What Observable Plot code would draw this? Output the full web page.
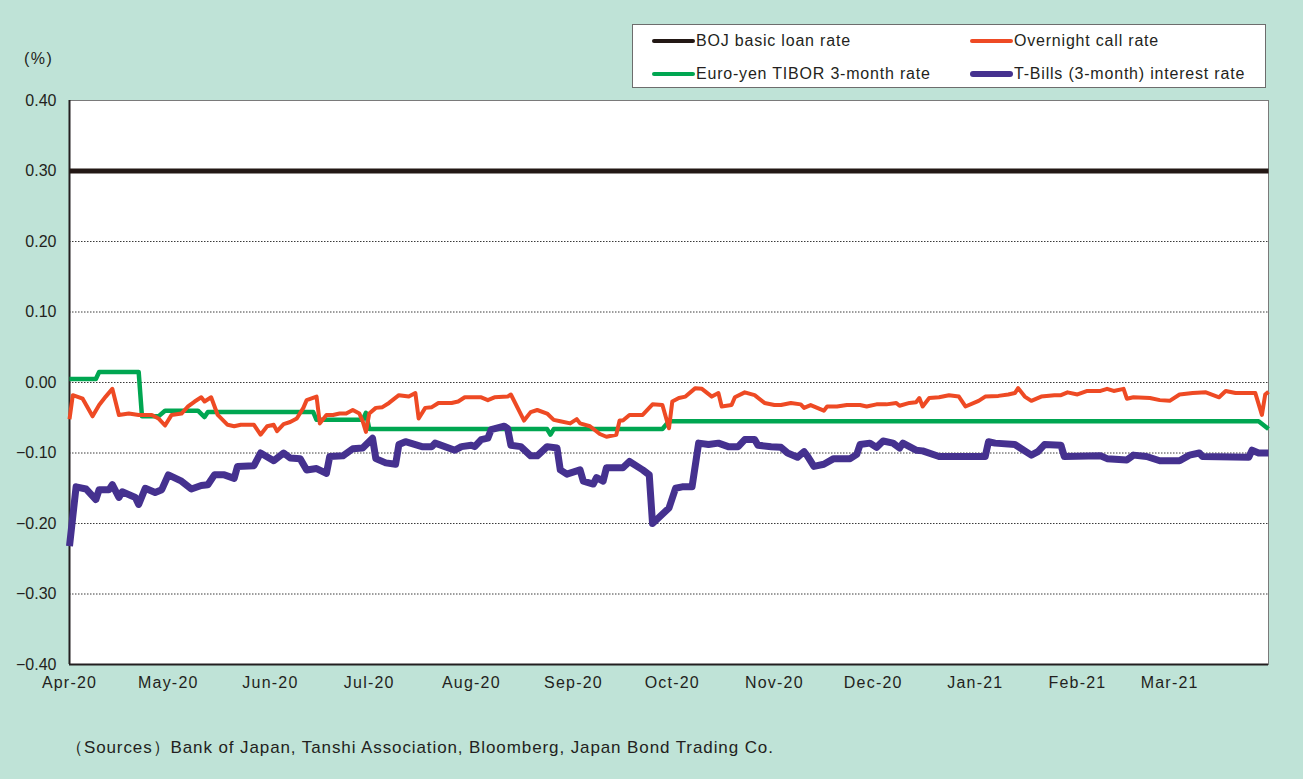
<!DOCTYPE html>
<html>
<head>
<meta charset="utf-8">
<script src="https://cdn.jsdelivr.net/npm/d3@7"></script>
<script src="https://cdn.jsdelivr.net/npm/@observablehq/plot@0.6"></script>
<style>
  html, body { margin: 0; padding: 0; }
  body { width: 1303px; height: 779px; background: #bfe3d7; position: relative; overflow: hidden;
         font-family: "Liberation Sans", Arial, sans-serif; color: #231f20; }
  #chart { position: absolute; left: 0; top: 0; }
  #chart svg g[aria-label="x-axis tick label"] text { letter-spacing: 1.2px; }
  .unit { position: absolute; left: 24px; top: 50px; font-size: 16px; letter-spacing: 1.5px; }
  .legend { position: absolute; left: 632px; top: 24px; width: 634px; height: 64px; background: #fff;
            border: 1px solid #6d6d6d; box-sizing: border-box; }
  .item { position: absolute; font-size: 16px; line-height: 18px; white-space: nowrap; letter-spacing: 0.8px; }
  .sw { display: inline-block; width: 43px; vertical-align: middle; border-radius: 3px; margin-right: 1px; position: relative; top: -1px; }
  .caption { position: absolute; left: 66px; top: 736px; font-size: 17px; letter-spacing: 0.9px; white-space: nowrap; }
</style>
</head>
<body>
<div id="chart"></div>
<div class="unit">(%)</div>
<div class="legend" id="legend"></div>
<div class="caption">（Sources）Bank of Japan, Tanshi Association, Bloomberg, Japan Bond Trading Co.</div>
<script>
// ---- data ----
const seriesNames = ["BOJ basic loan rate", "Overnight call rate", "Euro-yen TIBOR 3-month rate", "T-Bills (3-month) interest rate"];
const seriesColors = ["#231815", "#ee4a24", "#00a651", "#45318f"];

const bojDates = ["2020-04-01", "2021-03-31"];
const bojValues = [0.30, 0.30];

const callDates = [
  "2020-04-01","2020-04-02","2020-04-05","2020-04-08","2020-04-10","2020-04-12","2020-04-14","2020-04-16","2020-04-19","2020-04-22",
  "2020-04-26","2020-04-28","2020-04-30","2020-05-02","2020-05-05","2020-05-07","2020-05-09","2020-05-11","2020-05-12","2020-05-14",
  "2020-05-16","2020-05-19","2020-05-21","2020-05-23","2020-05-27","2020-05-29","2020-05-31","2020-06-02","2020-06-03","2020-06-05",
  "2020-06-07","2020-06-09","2020-06-11","2020-06-12","2020-06-15","2020-06-16","2020-06-18","2020-06-20","2020-06-22","2020-06-24",
  "2020-06-26","2020-06-28","2020-06-29","2020-06-30","2020-07-01","2020-07-03","2020-07-05","2020-07-07","2020-07-10","2020-07-13",
  "2020-07-15","2020-07-16","2020-07-18","2020-07-20","2020-07-22","2020-07-26","2020-07-28","2020-07-30","2020-08-01","2020-08-04",
  "2020-08-06","2020-08-08","2020-08-12","2020-08-13","2020-08-17","2020-08-19","2020-08-21","2020-08-24","2020-08-26","2020-08-28",
  "2020-08-31","2020-09-02","2020-09-03","2020-09-06","2020-09-09","2020-09-11","2020-09-14","2020-09-15","2020-09-16","2020-09-18",
  "2020-09-22","2020-09-25","2020-09-28","2020-09-30","2020-10-01","2020-10-03","2020-10-05","2020-10-08","2020-10-10","2020-10-13",
  "2020-10-15","2020-10-16","2020-10-19","2020-10-20","2020-10-23","2020-10-26","2020-10-29","2020-11-01","2020-11-03","2020-11-06",
  "2020-11-09","2020-11-10","2020-11-12","2020-11-14","2020-11-16","2020-11-17","2020-11-20","2020-11-23","2020-11-27","2020-11-29",
  "2020-12-02","2020-12-05","2020-12-08","2020-12-09","2020-12-12","2020-12-14","2020-12-15","2020-12-16","2020-12-18","2020-12-21",
  "2020-12-24","2020-12-27","2020-12-29","2021-01-02","2021-01-04","2021-01-08","2021-01-11","2021-01-13","2021-01-14","2021-01-16",
  "2021-01-18","2021-01-21","2021-01-25","2021-01-27","2021-01-29","2021-02-01","2021-02-04","2021-02-08","2021-02-10","2021-02-12",
  "2021-02-15","2021-02-16","2021-02-18","2021-02-23","2021-02-26","2021-03-01","2021-03-04","2021-03-08","2021-03-12","2021-03-16",
  "2021-03-18","2021-03-21","2021-03-24","2021-03-27","2021-03-29","2021-03-30","2021-03-31"
];
const callValues = [
  -0.052,-0.018,-0.023,-0.048,-0.032,-0.020,-0.009,-0.046,-0.044,-0.046,
  -0.046,-0.051,-0.061,-0.046,-0.044,-0.034,-0.027,-0.021,-0.027,-0.021,
  -0.046,-0.060,-0.062,-0.060,-0.060,-0.074,-0.062,-0.060,-0.069,-0.059,
  -0.056,-0.051,-0.036,-0.025,-0.020,-0.058,-0.046,-0.046,-0.044,-0.044,
  -0.039,-0.044,-0.055,-0.070,-0.044,-0.036,-0.035,-0.029,-0.018,-0.020,
  -0.015,-0.051,-0.036,-0.035,-0.029,-0.029,-0.027,-0.021,-0.021,-0.021,
  -0.025,-0.021,-0.020,-0.017,-0.054,-0.042,-0.039,-0.044,-0.053,-0.055,
  -0.058,-0.052,-0.058,-0.062,-0.073,-0.077,-0.074,-0.054,-0.054,-0.046,
  -0.046,-0.031,-0.032,-0.065,-0.027,-0.022,-0.020,-0.008,-0.009,-0.020,
  -0.015,-0.034,-0.032,-0.021,-0.014,-0.018,-0.029,-0.032,-0.032,-0.029,
  -0.031,-0.036,-0.032,-0.036,-0.040,-0.034,-0.034,-0.032,-0.032,-0.034,
  -0.031,-0.031,-0.029,-0.033,-0.029,-0.028,-0.022,-0.034,-0.022,-0.021,
  -0.018,-0.020,-0.034,-0.026,-0.020,-0.019,-0.017,-0.015,-0.008,-0.020,
  -0.026,-0.020,-0.018,-0.018,-0.014,-0.017,-0.012,-0.012,-0.009,-0.012,
  -0.009,-0.023,-0.021,-0.022,-0.025,-0.026,-0.017,-0.015,-0.014,-0.021,
  -0.012,-0.015,-0.015,-0.015,-0.046,-0.017,-0.013
];

const tiborDates = [
  "2020-04-01","2020-04-09","2020-04-10","2020-04-22","2020-04-23","2020-04-28","2020-04-30","2020-05-10","2020-05-12","2020-05-13",
  "2020-06-14","2020-06-15","2020-06-29","2020-06-30","2020-07-01","2020-08-24","2020-08-25","2020-08-26","2020-09-28","2020-09-30",
  "2021-03-28","2021-03-31"
];
const tiborValues = [
  0.005,0.005,0.015,0.015,-0.048,-0.048,-0.040,-0.040,-0.049,-0.042,
  -0.042,-0.053,-0.053,-0.043,-0.066,-0.066,-0.074,-0.066,-0.066,-0.055,
  -0.055,-0.066
];

const tbillDates = [
  "2020-04-01","2020-04-03","2020-04-06","2020-04-09","2020-04-10","2020-04-13","2020-04-14","2020-04-16","2020-04-17","2020-04-21",
  "2020-04-22","2020-04-24","2020-04-27","2020-04-29","2020-05-01","2020-05-05","2020-05-08","2020-05-11","2020-05-13","2020-05-15",
  "2020-05-18","2020-05-21","2020-05-22","2020-05-27","2020-05-29","2020-06-02","2020-06-05","2020-06-07","2020-06-10","2020-06-12",
  "2020-06-15","2020-06-18","2020-06-19","2020-06-23","2020-06-26","2020-06-29","2020-07-02","2020-07-03","2020-07-06","2020-07-09",
  "2020-07-10","2020-07-12","2020-07-17","2020-07-20","2020-07-21","2020-07-27","2020-07-29","2020-08-01","2020-08-02","2020-08-04",
  "2020-08-06","2020-08-07","2020-08-11","2020-08-12","2020-08-13","2020-08-16","2020-08-19","2020-08-21","2020-08-24","2020-08-27",
  "2020-08-28","2020-08-30","2020-09-03","2020-09-04","2020-09-07","2020-09-08","2020-09-10","2020-09-11","2020-09-16","2020-09-18",
  "2020-09-22","2020-09-24","2020-09-25","2020-09-30","2020-10-02","2020-10-04","2020-10-07","2020-10-09","2020-10-12","2020-10-15",
  "2020-10-18","2020-10-21","2020-10-23","2020-10-26","2020-10-27","2020-10-31","2020-11-03","2020-11-05","2020-11-08","2020-11-10",
  "2020-11-11","2020-11-13","2020-11-16","2020-11-19","2020-11-24","2020-11-26","2020-11-27","2020-11-30","2020-12-02","2020-12-04",
  "2020-12-07","2020-12-09","2020-12-10","2020-12-14","2020-12-16","2020-12-21","2021-01-04","2021-01-05","2021-01-07","2021-01-13",
  "2021-01-18","2021-01-20","2021-01-22","2021-01-27","2021-01-28","2021-02-08","2021-02-10","2021-02-16","2021-02-18","2021-02-22",
  "2021-02-26","2021-03-04","2021-03-07","2021-03-10","2021-03-11","2021-03-25","2021-03-26","2021-03-28","2021-03-31"
];
const tbillValues = [
  -0.232,-0.148,-0.151,-0.166,-0.152,-0.152,-0.145,-0.163,-0.155,-0.163,
  -0.173,-0.150,-0.156,-0.152,-0.131,-0.140,-0.151,-0.146,-0.145,-0.131,
  -0.131,-0.136,-0.119,-0.118,-0.100,-0.111,-0.100,-0.107,-0.108,-0.124,
  -0.122,-0.129,-0.105,-0.104,-0.094,-0.093,-0.079,-0.108,-0.114,-0.116,
  -0.088,-0.084,-0.091,-0.091,-0.086,-0.096,-0.091,-0.089,-0.091,-0.081,
  -0.079,-0.067,-0.062,-0.065,-0.089,-0.091,-0.104,-0.104,-0.091,-0.093,
  -0.124,-0.130,-0.124,-0.140,-0.144,-0.135,-0.140,-0.121,-0.121,-0.112,
  -0.124,-0.131,-0.200,-0.178,-0.150,-0.148,-0.148,-0.086,-0.088,-0.086,
  -0.091,-0.091,-0.081,-0.081,-0.089,-0.091,-0.092,-0.100,-0.106,-0.098,
  -0.104,-0.119,-0.116,-0.108,-0.108,-0.102,-0.088,-0.086,-0.092,-0.083,
  -0.086,-0.093,-0.086,-0.096,-0.097,-0.105,-0.105,-0.084,-0.086,-0.088,
  -0.103,-0.098,-0.088,-0.089,-0.105,-0.104,-0.108,-0.110,-0.103,-0.105,
  -0.111,-0.111,-0.103,-0.100,-0.105,-0.106,-0.096,-0.100,-0.100
];

const yTickValues = [-0.4, -0.3, -0.2, -0.1, 0, 0.1, 0.2, 0.3, 0.4];
const gridValues = [-0.3, -0.2, -0.1, 0, 0.1, 0.2];
const monthTicks = ["2020-04-01","2020-05-01","2020-06-01","2020-07-01","2020-08-01","2020-09-01",
                    "2020-10-01","2020-11-01","2020-12-01","2021-01-01","2021-02-01","2021-03-01"];
const xDomain = ["2020-04-01", "2021-03-31"];
const yDomain = [-0.4, 0.4];

// ---- build tables ----
const toRows = (dates, values) => dates.map((d, i) => ({date: new Date(d), value: values[i]}));
const boj = toRows(bojDates, bojValues);
const call = toRows(callDates, callValues);
const tibor = toRows(tiborDates, tiborValues);
const tbill = toRows(tbillDates, tbillValues);
const xDom = xDomain.map(d => new Date(d));

const lineOpts = (color, w) => ({x: "date", y: "value", stroke: color, strokeWidth: w,
  strokeLinejoin: "round", strokeLinecap: "butt"});

const chart = Plot.plot({
  width: 1303,
  height: 700,
  marginTop: 100,
  marginBottom: 36,
  marginLeft: 69,
  marginRight: 35,
  style: {background: "transparent", fontFamily: "'Liberation Sans', Arial, sans-serif", fontSize: "16px", color: "#231f20"},
  x: {type: "utc", domain: xDom, label: null},
  y: {domain: yDomain, label: null},
  marks: [
    Plot.frame({fill: "white", stroke: "#7a7a7a", strokeWidth: 1}),
    Plot.gridY(gridValues, {stroke: "#3a3a3a", strokeOpacity: 1, strokeWidth: 1, strokeDasharray: "1.5,1.5"}),
    Plot.ruleX([xDom[0]], {stroke: "#231f20", strokeWidth: 2}),
    Plot.ruleY([yDomain[0]], {stroke: "#231f20", strokeWidth: 2}),
    Plot.axisY(yTickValues, {tickSize: 0, tickPadding: 13, tickFormat: d3.format(".2f"), label: null, fontSize: 16}),
    Plot.axisX(monthTicks.map(d => new Date(d)), {tickSize: 0, tickPadding: 12, tickFormat: d3.utcFormat("%b-%y"), label: null, fontSize: 16}),
    Plot.line(boj, lineOpts(seriesColors[0], 5)),
    Plot.line(tibor, lineOpts(seriesColors[2], 4.5)),
    Plot.line(call, lineOpts(seriesColors[1], 4)),
    Plot.line(tbill, lineOpts(seriesColors[3], 7))
  ]
});
document.getElementById("chart").appendChild(chart);

// ---- legend ----
const legend = document.getElementById("legend");
const legendPos = [[19, 7], [337, 7], [19, 40], [337, 40]];
const legendWidths = [4, 4, 4, 6];
seriesNames.forEach((name, i) => {
  const it = document.createElement("div");
  it.className = "item";
  it.style.left = legendPos[i][0] + "px";
  it.style.top = legendPos[i][1] + "px";
  const sw = document.createElement("span");
  sw.className = "sw";
  sw.style.height = legendWidths[i] + "px";
  sw.style.background = seriesColors[i];
  it.appendChild(sw);
  it.appendChild(document.createTextNode(name));
  legend.appendChild(it);
});
</script>
</body>
</html>
